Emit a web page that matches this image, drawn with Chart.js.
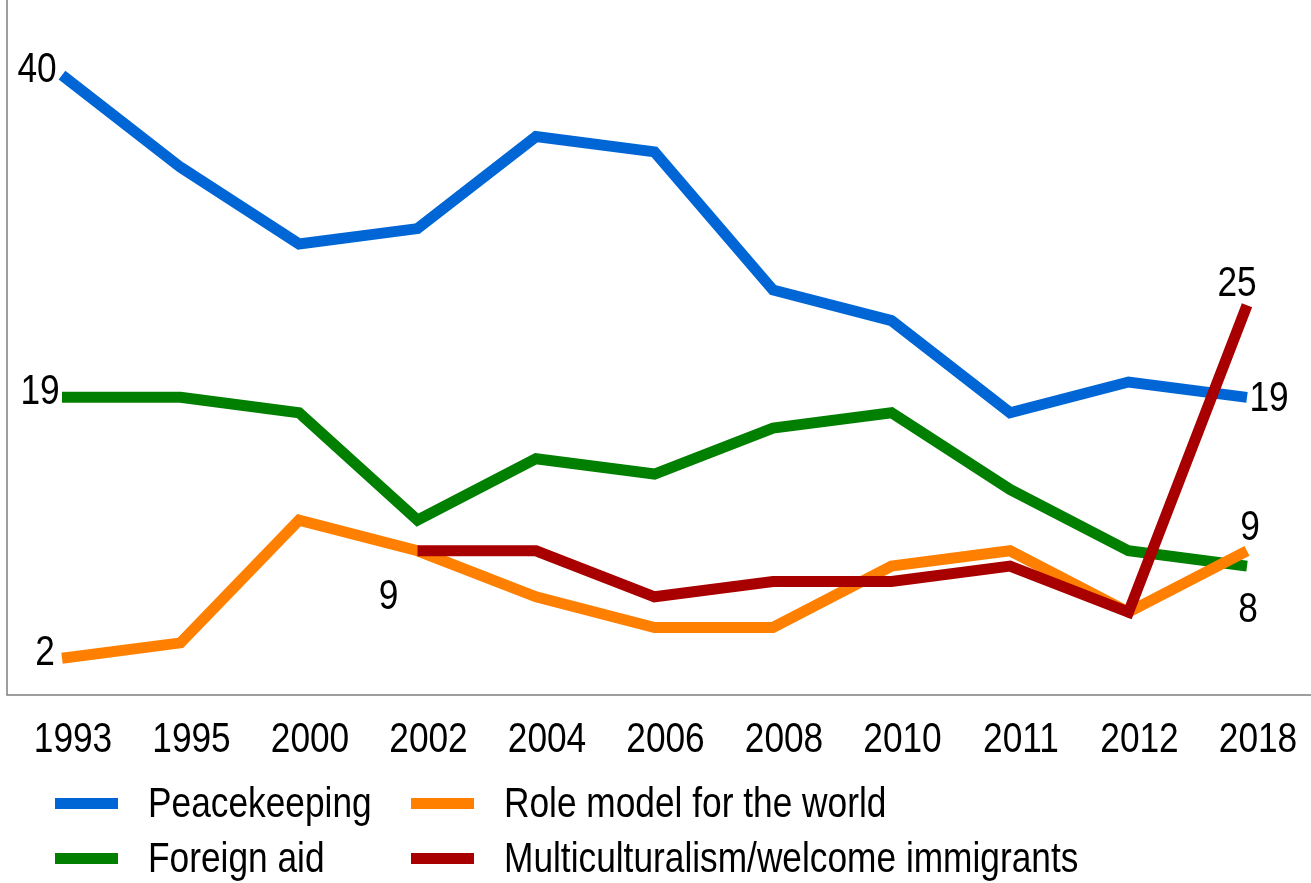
<!DOCTYPE html>
<html>
<head>
<meta charset="utf-8">
<script src="https://cdn.jsdelivr.net/npm/chart.js@4/dist/chart.umd.min.js"></script>
<style>
  html, body { margin: 0; padding: 0; background: #fff; }
  #wrap { position: relative; width: 1311px; height: 883px; }
  #legend { position: absolute; left: 0; top: 0; width: 1311px; height: 883px; pointer-events: none;
    font-family: 'Liberation Sans', Arial, sans-serif; font-size: 42px; color: #000; }
  .item { position: absolute; display: flex; align-items: center; height: 50px; white-space: nowrap; }
  .swatch { width: 63px; height: 11px; margin-right: 30px; flex: none; }
  .text { display: inline-block; transform: scaleX(0.84); transform-origin: left center; }
</style>
</head>
<body>
<div id="wrap">
  <canvas id="chart" width="1311" height="883"></canvas>
  <div id="legend"></div>
</div>
<script>
// ---- data ----
const years = ['1993', '1995', '2000', '2002', '2004', '2006', '2008', '2010', '2011', '2012', '2018'];
const peacekeeping = [40, 34, 29, 30, 36, 35, 26, 24, 18, 20, 19];
const foreignAid = [19, 19, 18, 11, 15, 14, 17, 18, 13, 9, 8];
const roleModel = [2, 3, 11, 9, 6, 4, 4, 8, 9, 5, 9];
const multiculturalism = [null, null, null, 9, 9, 6, 7, 7, 8, 5, 25];

// no Arial Narrow here, so squeeze Liberation Sans the same way
const FONT = "'Liberation Sans', Arial, sans-serif";
const SQUEEZE = 0.84;

const series = [
  { label: 'Peacekeeping', data: peacekeeping, color: '#0066d6', order: 3 },
  { label: 'Foreign aid', data: foreignAid, color: '#007f00', order: 2 },
  { label: 'Role model for the world', data: roleModel, color: '#ff8000', order: 1 },
  { label: 'Multiculturalism/welcome immigrants', data: multiculturalism, color: '#a80000', order: 0 },
];

// value labels: which series / point, nudged off the point
const valueLabels = [
  { s: 0, i: 0, dx: -25, dy: -5 },
  { s: 1, i: 0, dx: -22, dy: -5 },
  { s: 2, i: 0, dx: -17, dy: -5 },
  { s: 3, i: 3, dx: -29, dy: 47 },
  { s: 3, i: 10, dx: -10, dy: -21 },
  { s: 0, i: 10, dx: 22, dy: 2 },
  { s: 2, i: 10, dx: 3, dy: -22 },
  { s: 1, i: 10, dx: 1, dy: 44 },
];

function squeezedText(ctx, text, x, y) {
  ctx.save();
  ctx.translate(x, y);
  ctx.scale(SQUEEZE, 1);
  ctx.fillText(text, 0, 0);
  ctx.restore();
}

const axesAndLabels = {
  id: 'axesAndLabels',
  afterDatasetsDraw(chart) {
    const ctx = chart.ctx;
    const area = chart.chartArea;
    const xs = chart.scales.x;
    const ys = chart.scales.y;
    ctx.save();
    ctx.strokeStyle = '#7f7f7f';
    ctx.lineWidth = 1.5;
    ctx.beginPath();
    ctx.moveTo(7, 0);
    ctx.lineTo(7, area.bottom);
    ctx.lineTo(chart.width, area.bottom);
    ctx.stroke();

    ctx.fillStyle = '#000';
    ctx.font = '42px ' + FONT;
    ctx.textAlign = 'center';
    ctx.textBaseline = 'middle';
    // category labels
    years.forEach((yr, i) => {
      squeezedText(ctx, yr, xs.getPixelForValue(i) + 11, area.bottom + 45);
    });
    // value labels
    valueLabels.forEach((l) => {
      const v = series[l.s].data[l.i];
      squeezedText(ctx, String(v), xs.getPixelForValue(l.i) + l.dx, ys.getPixelForValue(v) + l.dy);
    });
    ctx.restore();
  },
};

new Chart(document.getElementById('chart'), {
  type: 'line',
  data: {
    labels: years,
    datasets: series.map((s) => ({
      label: s.label,
      data: s.data,
      borderColor: s.color,
      backgroundColor: s.color,
      borderWidth: 11,
      borderJoinStyle: 'miter',
      borderCapStyle: 'butt',
      pointRadius: 0,
      tension: 0,
      spanGaps: false,
      clip: false,
      order: s.order,
    })),
  },
  options: {
    responsive: false,
    animation: false,
    layout: { padding: { left: 62, right: 64, top: 0, bottom: 188 } },
    plugins: { legend: { display: false }, tooltip: { enabled: false } },
    scales: {
      x: {
        offset: false,
        grid: { display: false, drawTicks: false },
        border: { display: false },
        ticks: { display: false },
      },
      y: { display: false, min: -0.4, max: 44.9 },
    },
  },
  plugins: [axesAndLabels],
});

// ---- legend ----
const legendPos = [
  { s: 0, left: 55, top: 778 },
  { s: 2, left: 411, top: 778 },
  { s: 1, left: 55, top: 833 },
  { s: 3, left: 411, top: 833 },
];
const legend = document.getElementById('legend');
legendPos.forEach((p) => {
  const el = document.createElement('div');
  el.className = 'item';
  el.style.left = p.left + 'px';
  el.style.top = p.top + 'px';
  const sw = document.createElement('span');
  sw.className = 'swatch';
  sw.style.background = series[p.s].color;
  const tx = document.createElement('span');
  tx.className = 'text';
  tx.textContent = series[p.s].label;
  el.appendChild(sw);
  el.appendChild(tx);
  legend.appendChild(el);
});
</script>
</body>
</html>
